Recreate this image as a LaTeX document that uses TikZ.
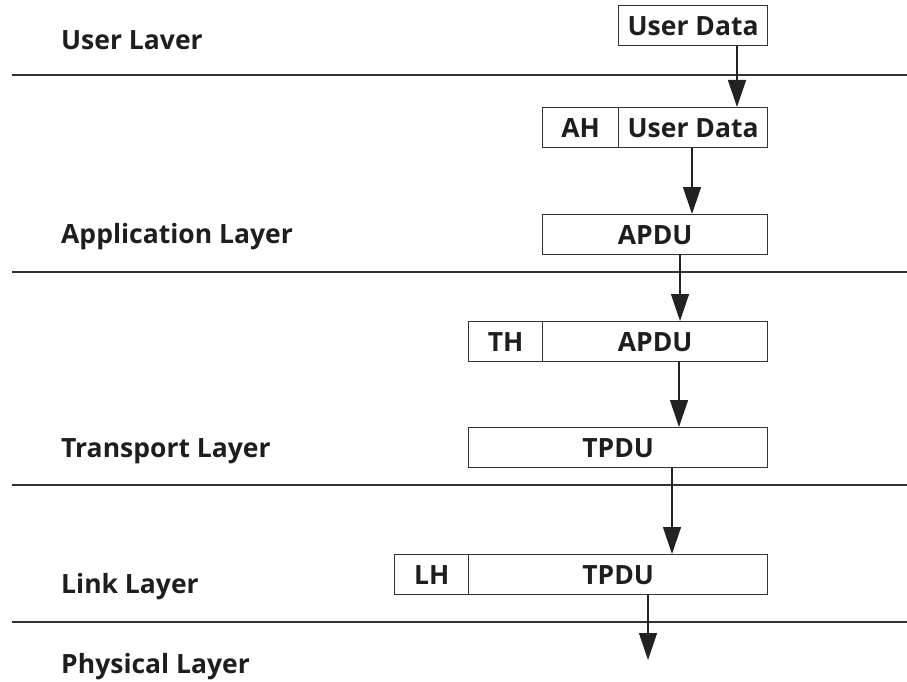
\documentclass[tikz,border=0pt]{standalone}
\usepackage{fontspec}
\setmainfont{Open Sans}
\usetikzlibrary{arrows.meta,calc}
\definecolor{ink}{HTML}{1E1E1E}
\definecolor{rule}{HTML}{333333}
\definecolor{arrink}{HTML}{222222}
\tikzset{
  lbl/.style={anchor=base west, inner sep=0pt, text=ink, font=\fontsize{26.5}{31}\selectfont\bfseries},
  cell/.style={draw=rule, line width=1.3pt, rectangle, inner sep=0pt, anchor=north west,
    minimum height=40pt, text height=19pt, text depth=0pt, text=ink,
    font=\fontsize{26.5}{31}\selectfont\bfseries},
  sep/.style={draw=rule, line width=1.2pt},
  arr/.style={draw=arrink, line width=1.3pt, -{Triangle[width=18pt,length=27pt]}},
}
\begin{document}
\begin{tikzpicture}[x=1pt,y=-1pt]
\useasboundingbox (0,0) rectangle (907,682);
% layer separators
\coordinate (l1a) at (12,75);  \coordinate (l1b) at (907,75);
\coordinate (l2a) at (12,272); \coordinate (l2b) at (907,272);
\coordinate (l3a) at (12,485); \coordinate (l3b) at (907,485);
\coordinate (l4a) at (12,622); \coordinate (l4b) at (907,622);
\draw[sep] (l1a) -- (l1b);
\draw[sep] (l2a) -- (l2b);
\draw[sep] (l3a) -- (l3b);
\draw[sep] (l4a) -- (l4b);
% labels
\node[lbl] (user) at (61,50) {User Laver};
\node[lbl] (app) at (61,243) {Application Layer};
\node[lbl] (trans) at (61,457) {Transport Layer};
\node[lbl] (link) at (61,593) {Link Layer};
\node[lbl] (phys) at (61,673) {Physical Layer};
% boxes
\node[cell, minimum width=149pt] (ud) at (618,5) {User Data};
\node[cell, minimum width=76pt] (ah) at (542,107) {AH};
\node[cell, minimum width=149pt] (ahud) at (618,107) {User Data};
\node[cell, minimum width=225pt] (apdu) at (542,214) {APDU};
\node[cell, minimum width=74pt] (th) at (468,321) {TH};
\node[cell, minimum width=225pt] (thapdu) at (542,321) {APDU};
\node[cell, minimum width=299pt] (tpdu) at (468,427) {TPDU};
\node[cell, minimum width=74pt] (lh) at (394,554) {LH};
\node[cell, minimum width=299pt] (lhtpdu) at (468,554) {TPDU};
\coordinate (out) at (648,660);
% arrows
\draw[arr] (ud.south -| 737,0) -- (ahud.north -| 737,0);
\draw[arr] (ahud.south -| 692,0) -- (apdu.north -| 692,0);
\draw[arr] (apdu.south -| 680,0) -- (thapdu.north -| 680,0);
\draw[arr] (thapdu.south -| 679,0) -- (tpdu.north -| 679,0);
\draw[arr] (tpdu.south -| 672,0) -- (lhtpdu.north -| 672,0);
\draw[arr] (lhtpdu.south -| 648,0) -- (out);
\end{tikzpicture}
\end{document}
